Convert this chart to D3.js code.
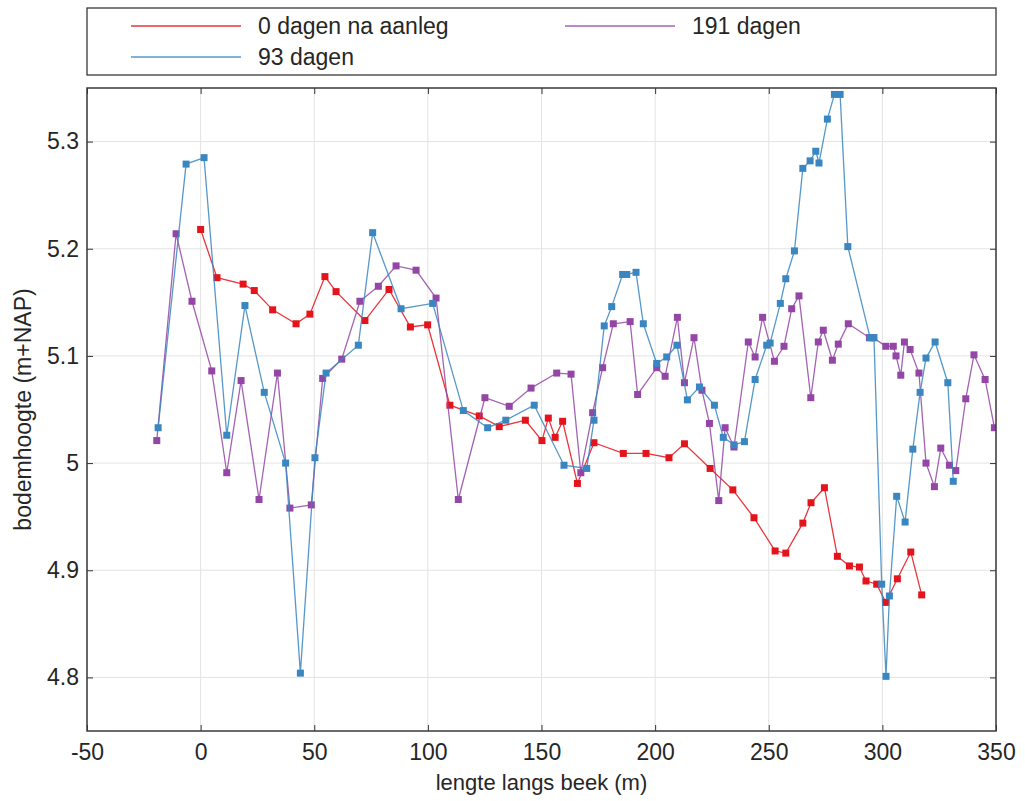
<!DOCTYPE html>
<html><head><meta charset="utf-8">
<script src="https://cdn.jsdelivr.net/npm/d3@7/dist/d3.min.js"></script>
<style>body{margin:0;background:#fff}text{font-family:"Liberation Sans",Arial,sans-serif;fill:#262626}</style>
</head><body><svg id="c" width="1025" height="801"></svg>
<script>
const redX=[0,7.2,18.7,23.6,31.7,42.0,48.1,54.7,59.6,72.3,82.9,92.3,99.9,109.7,122.6,131.4,142.9,150.2,153.0,156.0,159.3,165.8,173.1,186.0,196.0,206.1,212.9,224.2,234.2,243.5,252.8,257.5,265.0,268.6,274.5,280.2,285.5,289.9,292.8,297.5,301.5,306.6,312.5,317.3];
const redY=[5.218,5.173,5.167,5.161,5.143,5.130,5.139,5.174,5.160,5.133,5.162,5.127,5.129,5.054,5.044,5.034,5.040,5.021,5.042,5.024,5.039,4.981,5.019,5.009,5.009,5.005,5.018,4.995,4.975,4.949,4.918,4.916,4.944,4.963,4.977,4.913,4.904,4.903,4.890,4.887,4.870,4.892,4.917,4.877];
const blueX=[-18.7,-6.4,1.5,11.5,19.5,28.0,37.4,43.9,50.3,55.2,69.4,75.7,88.2,102.1,115.6,126.3,134.3,146.8,159.9,169.9,173.1,177.6,180.9,185.7,187.5,191.6,194.8,200.7,205.1,209.6,214.2,219.5,226.1,230.0,234.7,239.3,244.0,249.1,250.6,255.1,257.5,261.3,265.0,268.2,270.7,272.1,275.8,278.9,281.4,284.8,294.6,296.3,299.7,301.6,303.1,306.3,310.0,313.4,316.6,319.2,323.2,328.8,331.2];
const blueY=[5.033,5.279,5.285,5.026,5.147,5.066,5.000,4.804,5.005,5.084,5.110,5.215,5.144,5.149,5.049,5.033,5.040,5.054,4.998,4.995,5.040,5.128,5.146,5.176,5.176,5.178,5.130,5.093,5.099,5.110,5.059,5.071,5.054,5.024,5.017,5.020,5.078,5.110,5.112,5.149,5.172,5.198,5.275,5.282,5.291,5.280,5.321,5.344,5.344,5.202,5.117,5.117,4.887,4.801,4.876,4.969,4.945,5.013,5.066,5.098,5.113,5.075,4.983];
const purpleX=[-19.3,-10.8,-3.8,4.9,11.5,17.8,25.7,33.8,39.3,48.7,53.7,62.1,70.1,78.2,86.0,94.8,103.6,113.4,125.1,135.8,145.4,156.7,163.0,167.3,172.5,176.9,181.6,189.0,192.3,200.7,204.4,209.8,212.9,217.1,220.6,223.9,228.0,230.8,234.7,241.0,244.0,247.3,252.5,256.7,260.1,263.3,268.5,271.8,274.0,278.0,280.6,285.0,294.3,296.0,301.5,304.8,306.0,308.1,309.7,312.2,316.1,319.2,322.9,325.7,329.5,332.3,336.7,340.3,345.2,349.3];
const purpleY=[5.021,5.214,5.151,5.086,4.991,5.077,4.966,5.084,4.958,4.961,5.079,5.097,5.151,5.165,5.184,5.180,5.154,4.966,5.061,5.053,5.070,5.084,5.083,4.991,5.047,5.089,5.130,5.132,5.064,5.089,5.081,5.136,5.075,5.117,5.068,5.037,4.965,5.033,5.015,5.113,5.099,5.136,5.095,5.109,5.144,5.156,5.061,5.113,5.124,5.096,5.111,5.130,5.117,5.117,5.109,5.109,5.100,5.082,5.113,5.106,5.084,5.000,4.978,5.014,4.998,4.993,5.060,5.101,5.078,5.033];
const xTicks=[-50,0,50,100,150,200,250,300,350];
const yTicks=[4.8,4.9,5,5.1,5.2,5.3];
const seriesNames=["0 dagen na aanleg","93 dagen","191 dagen"];
const colors=["#e3141c","#3a86c0","#9346a5"];

const FS=23;
const svg=d3.select("#c");
const L=87,R=996,T=88,B=731;
const x=d3.scaleLinear().domain([-50,350]).range([L,R]);
const y=d3.scaleLinear().domain([4.75,5.35]).range([B,T]);

// grid
const g=svg.append("g");
g.selectAll(".gx").data(xTicks).enter().append("line").attr("x1",d=>x(d)).attr("x2",d=>x(d)).attr("y1",T).attr("y2",B).attr("stroke","#e3e3e3").attr("stroke-width",1);
g.selectAll(".gy").data(yTicks).enter().append("line").attr("y1",d=>y(d)).attr("y2",d=>y(d)).attr("x1",L).attr("x2",R).attr("stroke","#e3e3e3").attr("stroke-width",1);

// axes
const fmtY=d=>d===5?"5":d3.format(".1f")(d);
const fmtX=d=>String(d);
svg.append("g").attr("transform",`translate(0,${B})`).call(d3.axisBottom(x).tickValues(xTicks).tickFormat(fmtX).tickSizeInner(-6).tickSizeOuter(0).tickPadding(13))
 .call(a=>{a.select(".domain").remove();a.selectAll("text").attr("font-size",FS).style("fill","#262626");a.selectAll("line").attr("stroke","#333")});
svg.append("g").attr("transform",`translate(${L},0)`).call(d3.axisLeft(y).tickValues(yTicks).tickFormat(fmtY).tickSizeInner(-6).tickSizeOuter(0).tickPadding(8))
 .call(a=>{a.select(".domain").remove();a.selectAll("text").attr("font-size",FS).style("fill","#262626");a.selectAll("line").attr("stroke","#333")});
svg.append("g").attr("transform",`translate(0,${T})`).call(d3.axisTop(x).tickValues(xTicks).tickSizeInner(-6).tickSizeOuter(0).tickFormat(""))
 .call(a=>{a.select(".domain").remove();a.selectAll("line").attr("stroke","#333")});
svg.append("g").attr("transform",`translate(${R},0)`).call(d3.axisRight(y).tickValues(yTicks).tickSizeInner(-6).tickSizeOuter(0).tickFormat(""))
 .call(a=>{a.select(".domain").remove();a.selectAll("line").attr("stroke","#333")});

// series
const series=[d3.zip(redX,redY),d3.zip(blueX,blueY),d3.zip(purpleX,purpleY)];
const line=d3.line().x(d=>x(d[0])).y(d=>y(d[1]));
svg.append("clipPath").attr("id","cl").append("rect").attr("x",L).attr("y",T).attr("width",R-L).attr("height",B-T);
const drawOrder=[0,2,1];
drawOrder.forEach(i=>{
  const s=svg.append("g").attr("clip-path","url(#cl)");
  s.append("path").datum(series[i]).attr("d",line).attr("fill","none").attr("stroke",colors[i]).attr("stroke-width",1.3).attr("stroke-opacity",0.85);
  s.selectAll("rect").data(series[i]).enter().append("rect").attr("x",d=>x(d[0])-3.5).attr("y",d=>y(d[1])-3.5).attr("width",7).attr("height",7).attr("fill",colors[i]);
});

// frame
svg.append("rect").attr("x",L).attr("y",T).attr("width",R-L).attr("height",B-T).attr("fill","none").attr("stroke","#3a3a3a").attr("stroke-width",1.5);

// labels
svg.append("text").attr("x",(L+R)/2).attr("y",790).attr("text-anchor","middle").attr("font-size",22).text("lengte langs beek (m)");
svg.append("text").attr("transform",`translate(31,${(T+B)/2}) rotate(-90)`).attr("text-anchor","middle").attr("font-size",FS).text("bodemhoogte (m+NAP)");

// legend
svg.append("rect").attr("x",L).attr("y",8).attr("width",R-L).attr("height",67).attr("fill","#fff").attr("stroke","#3a3a3a").attr("stroke-width",1.3);
const legPos=[[131,26],[131,57],[565,26]];
seriesNames.forEach((n,i)=>{
  const [lx,ly]=legPos[i];
  svg.append("line").attr("x1",lx).attr("x2",lx+110).attr("y1",ly).attr("y2",ly).attr("stroke",colors[i]).attr("stroke-width",1.3).attr("stroke-opacity",0.85);
  svg.append("text").attr("x",lx+127).attr("y",ly+7.5).attr("font-size",FS).text(n);
});
</script></body></html>
